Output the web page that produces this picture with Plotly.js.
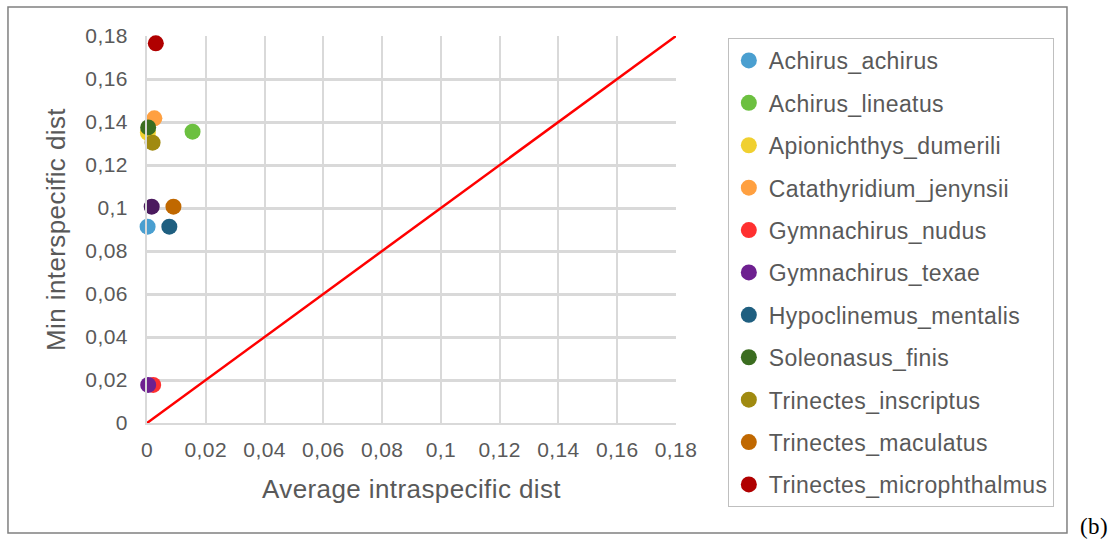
<!DOCTYPE html>
<html>
<head>
<meta charset="utf-8">
<script src="https://cdn.plot.ly/plotly-3.0.1.min.js"></script>
<style>
html, body { margin: 0; padding: 0; background: #ffffff; }
#chart { width: 1113px; height: 544px; }
svg text { letter-spacing: 0.4px; }
</style>
</head>
<body>
<div id="chart"></div>
<script>
// Species (legend order)
const species = [
  "Achirus_achirus",
  "Achirus_lineatus",
  "Apionichthys_dumerili",
  "Catathyridium_jenynsii",
  "Gymnachirus_nudus",
  "Gymnachirus_texae",
  "Hypoclinemus_mentalis",
  "Soleonasus_finis",
  "Trinectes_inscriptus",
  "Trinectes_maculatus",
  "Trinectes_microphthalmus"
];
// Average intraspecific distance (x)
const avgIntra = [0.0002, 0.0155, 0.0003, 0.0025, 0.0021, 0.0004, 0.0076, 0.0004, 0.0019, 0.0090, 0.0030];
// Minimum interspecific distance (y)
const minInter = [0.0913, 0.1355, 0.1350, 0.1417, 0.0177, 0.0177, 0.0913, 0.1375, 0.1304, 0.1006, 0.1766];
const colors = ["#4a9fd0", "#6cc040", "#f0d030", "#ffa040", "#ff3030", "#6e2090",
                "#1f5f80", "#3b6d20", "#a08a10", "#c06800", "#b00000"];

// Extra point visible in the chart but not listed in the legend
const extraX = [0.0016];
const extraY = [0.1006];
const extraColor = "#4b1a5e";

// Reference line y = x
const lineX = [0, 0.18];
const lineY = [0, 0.18];

// Axis ticks
const tickVals = [0, 0.02, 0.04, 0.06, 0.08, 0.1, 0.12, 0.14, 0.16, 0.18];
const tickLabels = ["0", "0,02", "0,04", "0,06", "0,08", "0,1", "0,12", "0,14", "0,16", "0,18"];

const textColor = "#595959";
const gridColor = "#d9d9d9";

const traces = [];
traces.push({
  x: lineX, y: lineY, type: "scatter", mode: "lines",
  line: { color: "#ff0000", width: 2.5 },
  showlegend: false, hoverinfo: "skip", cliponaxis: false
});
traces.push({
  x: extraX, y: extraY, type: "scatter", mode: "markers",
  marker: { color: extraColor, size: 16 },
  showlegend: false, cliponaxis: false, name: ""
});
species.forEach(function (name, i) {
  traces.push({
    x: [avgIntra[i]], y: [minInter[i]], type: "scatter", mode: "markers",
    name: name, legendgroup: name, legendrank: i + 1,
    marker: { color: colors[i], size: 16 },
    cliponaxis: false
  });
});

const layout = {
  width: 1113, height: 544,
  paper_bgcolor: "#ffffff", plot_bgcolor: "#ffffff",
  margin: { l: 147, r: 437, t: 36, b: 121, pad: 0 },
  font: { family: "Liberation Sans, Arial, sans-serif", color: textColor, size: 21 },
  xaxis: {
    range: [0, 0.18], tickvals: tickVals, ticktext: tickLabels,
    showgrid: true, gridcolor: gridColor, gridwidth: 2,
    showline: true, linecolor: gridColor, linewidth: 2,
    zeroline: false, ticks: "", ticklabelstandoff: 7,
    tickfont: { size: 21, color: textColor },
    title: { text: "Average intraspecific dist", font: { size: 26, color: textColor }, standoff: 20 }
  },
  yaxis: {
    range: [0, 0.18], tickvals: tickVals, ticktext: tickLabels,
    showgrid: true, gridcolor: gridColor, gridwidth: 3,
    showline: true, linecolor: gridColor, linewidth: 2,
    zeroline: false, ticks: "", ticklabelstandoff: 13,
    tickfont: { size: 21, color: textColor },
    title: { text: "Min interspecific dist", font: { size: 26, color: textColor }, standoff: 12 }
  },
  legend: {
    x: 1.098, y: 0.9948, xanchor: "left", yanchor: "top",
    bordercolor: "#bfbfbf", borderwidth: 1, bgcolor: "#ffffff",
    font: { size: 23, color: textColor },
    tracegroupgap: 9.5, itemsizing: "trace", maxheight: 520
  },
  shapes: [{
    type: "rect", xref: "paper", yref: "paper",
    x0: -0.2628, x1: 1.7391, y0: -0.2842, y1: 1.0749,
    line: { color: "#808080", width: 1.5 }, fillcolor: "rgba(0,0,0,0)", layer: "below"
  }],
  annotations: [{
    text: "(b)", xref: "paper", yref: "paper", x: 1.790, y: -0.2687,
    xanchor: "center", yanchor: "middle", showarrow: false,
    font: { family: "Liberation Serif, Times New Roman, serif", size: 23, color: "#000000" }
  }],
  showlegend: true
};

Plotly.newPlot("chart", traces, layout, { displayModeBar: false, staticPlot: true });
</script>
</body>
</html>
